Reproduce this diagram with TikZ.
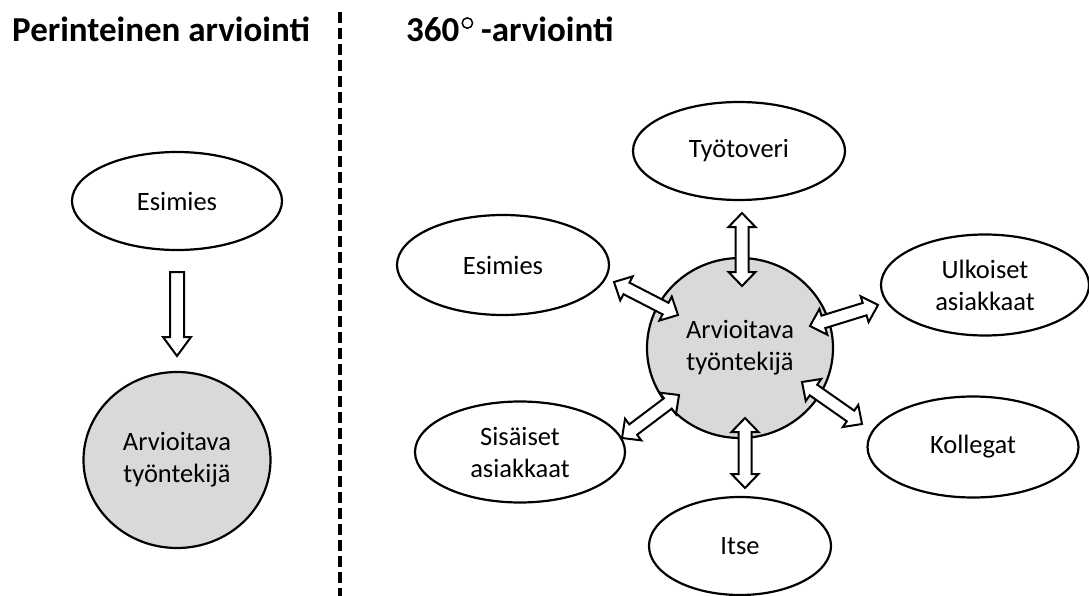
\documentclass[tikz,border=0pt]{standalone}
\usepackage{fontspec}
\setmainfont{Carlito}
\usetikzlibrary{shapes.geometric,calc}
\definecolor{cgray}{HTML}{D9D9D9}
\newcommand\dblarrow[2]{%
  \coordinate (#1h) at ($(#1)!14pt!(#2)$);
  \coordinate (#2h) at ($(#2)!14pt!(#1)$);
  \filldraw[barrow] (#1)
    -- ($(#1h)!13.5pt!90:(#2)$) -- ($(#1h)!6.5pt!90:(#2)$)
    -- ($(#2h)!6.5pt!-90:(#1)$) -- ($(#2h)!13.5pt!-90:(#1)$)
    -- (#2)
    -- ($(#2h)!13.5pt!90:(#1)$) -- ($(#2h)!6.5pt!90:(#1)$)
    -- ($(#1h)!6.5pt!-90:(#2)$) -- ($(#1h)!13.5pt!-90:(#2)$)
    -- cycle;}
\newcommand\sglarrow[2]{%
  \coordinate (#2h) at ($(#2)!19pt!(#1)$);
  \filldraw[barrow] ($(#1)!7pt!90:(#2)$)
    -- ($(#2h)!7pt!-90:(#1)$) -- ($(#2h)!14pt!-90:(#1)$)
    -- (#2)
    -- ($(#2h)!14pt!90:(#1)$) -- ($(#2h)!7pt!90:(#1)$)
    -- ($(#1)!7pt!-90:(#2)$) -- cycle;}
\newcommand\degring{\raisebox{13pt}{\tikz[x=1pt,y=1pt]\draw[line width=1.5pt] (0,0) circle[radius=5.2pt];}}
\begin{document}
\begin{tikzpicture}[x=1pt,y=-1pt,
  ell/.style={ellipse,draw,line width=2.2pt,fill=white,inner sep=0pt,align=center,
    font=\fontsize{26.5}{32}\selectfont},
  grayc/.style={ell,fill=cgray},
  barrow/.style={draw=black,fill=white,line width=2pt,line join=miter},
  heading/.style={anchor=base west,inner sep=0pt,font=\bfseries\fontsize{35}{40}\selectfont}]
\useasboundingbox (0,0) rectangle (1089,596);
\fill[white] (0,0) rectangle (1089,596);
% headings
\node[heading] (h1) at (12,42) {Perinteinen arviointi};
\node[heading] (h2) at (406,42) {360\kern2pt\degring\ -arviointi};
% divider
\coordinate (d1) at (340,12);
\coordinate (d2) at (340,596);
\draw[line width=3.5pt,dash pattern=on 11pt off 5pt] (d1) -- (d2);
% left side
\node[ell,minimum width=210pt,minimum height=98pt] (lesi) at (177,201) {Esimies};
\node[grayc,minimum width=187pt,minimum height=176pt] (larv) at (177,460) {Arvioitava\\työntekijä};
\coordinate (la1) at (177,272);
\coordinate (la2) at (177,356);
\sglarrow{la1}{la2}
% right side
\node[ell,minimum width=212pt,minimum height=98pt] (tyo) at (739,151) {Työtoveri};
\node[ell,minimum width=212pt,minimum height=100pt] (resi) at (503,265) {Esimies};
\node[ell,minimum width=208pt,minimum height=101pt] (ulk) at (985,285) {Ulkoiset\\asiakkaat};
\node[ell,minimum width=210pt,minimum height=101pt] (sis) at (520,452) {Sisäiset\\asiakkaat};
\node[ell,minimum width=211pt,minimum height=101pt] (kol) at (973,447) {Kollegat};
\node[ell,minimum width=182pt,minimum height=98pt] (itse) at (740,546) {Itse};
\node[grayc,minimum width=186pt,minimum height=180pt] (rarv) at (740,348) {Arvioitava\\työntekijä};
% arrows
\coordinate (ta) at (742,213); \coordinate (tb) at (742,286);
\dblarrow{ta}{tb}
\coordinate (ea) at (614,282); \coordinate (eb) at (678,315);
\dblarrow{ea}{eb}
\coordinate (ua) at (810,326); \coordinate (ub) at (878,305);
\dblarrow{ua}{ub}
\coordinate (ka) at (802,382); \coordinate (kb) at (862,424);
\dblarrow{ka}{kb}
\coordinate (sa) at (679,395); \coordinate (sb) at (622,438);
\dblarrow{sa}{sb}
\coordinate (ia) at (745,418); \coordinate (ib) at (745,488);
\dblarrow{ia}{ib}
\end{tikzpicture}
\end{document}
